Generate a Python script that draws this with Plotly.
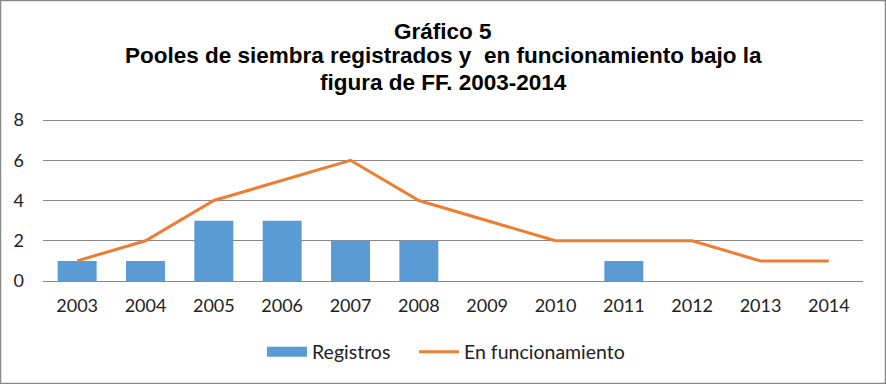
import plotly.graph_objects as go

years = ["2003", "2004", "2005", "2006", "2007", "2008", "2009", "2010", "2011", "2012", "2013", "2014"]
registros = [1, 1, 3, 3, 2, 2, 0, 0, 1, 0, 0, 0]
funcionamiento = [1, 2, 4, 5, 6, 4, 3, 2, 2, 2, 1, 1]
y_ticks = [0, 2, 4, 6, 8]
title_lines = ["Gráfico 5",
               "Pooles de siembra registrados y  en funcionamiento bajo la",
               "figura de FF. 2003-2014"]

BLUE = "#5B9BD5"
ORANGE = "#ED7D31"

fig = go.Figure()
fig.add_trace(go.Bar(x=years, y=registros, name="Registros", marker=dict(color=BLUE, line=dict(width=0)),
                     showlegend=False))
# legend-only entry so the legend swatch is a wide rectangle like the reference
fig.add_trace(go.Scatter(x=[None], y=[None], name="Registros", mode="lines",
                         line=dict(color=BLUE, width=10), legend="legend"))
fig.add_trace(go.Scatter(x=years, y=funcionamiento, name="En funcionamiento", mode="lines",
                         line=dict(color=ORANGE, width=3), legend="legend2"))

L, R, T, B = 43, 23, 118, 103
PW, PH = 886 - L - R, 384 - T - B
Y_TOP = 8.1

leg_common = dict(orientation="h", xanchor="left", yanchor="middle", y=-(352 - (T + PH)) / PH,
                  font=dict(size=19.5), itemwidth=40, bgcolor="rgba(0,0,0,0)")

title_centers_px = [31, 56, 82]
annotations = [dict(text=f"<b>{t}</b>", xref="paper", yref="paper", x=(443 - L) / PW,
                    y=1 + (T - cy) / PH, xanchor="center", yanchor="middle", showarrow=False,
                    font=dict(family="Liberation Sans, Arial", size=22.5, color="black"))
               for t, cy in zip(title_lines, title_centers_px)]

fig.update_layout(
    width=886, height=384,
    paper_bgcolor="white", plot_bgcolor="white",
    margin=dict(l=L, r=R, t=T, b=B, autoexpand=False),
    bargap=0.43,
    font=dict(family="Lato, Calibri, sans-serif", size=18, color="#222"),
    legend=dict(x=(262 - L) / PW, **leg_common),
    legend2=dict(x=(414 - L) / PW, **leg_common),
    showlegend=True,
    annotations=annotations,
    shapes=[dict(type="rect", xref="paper", yref="paper",
                 x0=-(L - 0.5) / PW, x1=(885.5 - L) / PW,
                 y0=-(383.5 - (T + PH)) / PH, y1=1 + (T - 0.5) / PH,
                 line=dict(color="#888", width=1.5))],
)
fig.update_yaxes(range=[0, Y_TOP], tickvals=y_ticks, showgrid=True, gridcolor="#888", gridwidth=1,
                 zeroline=False, ticks="", ticklabelstandoff=18, showline=False)
fig.update_xaxes(showline=True, linecolor="#888", linewidth=1, ticks="", ticklabelstandoff=8)

fig.write_html("out.html", config={"displayModeBar": False},
               post_script="document.body.style.margin='0';")
